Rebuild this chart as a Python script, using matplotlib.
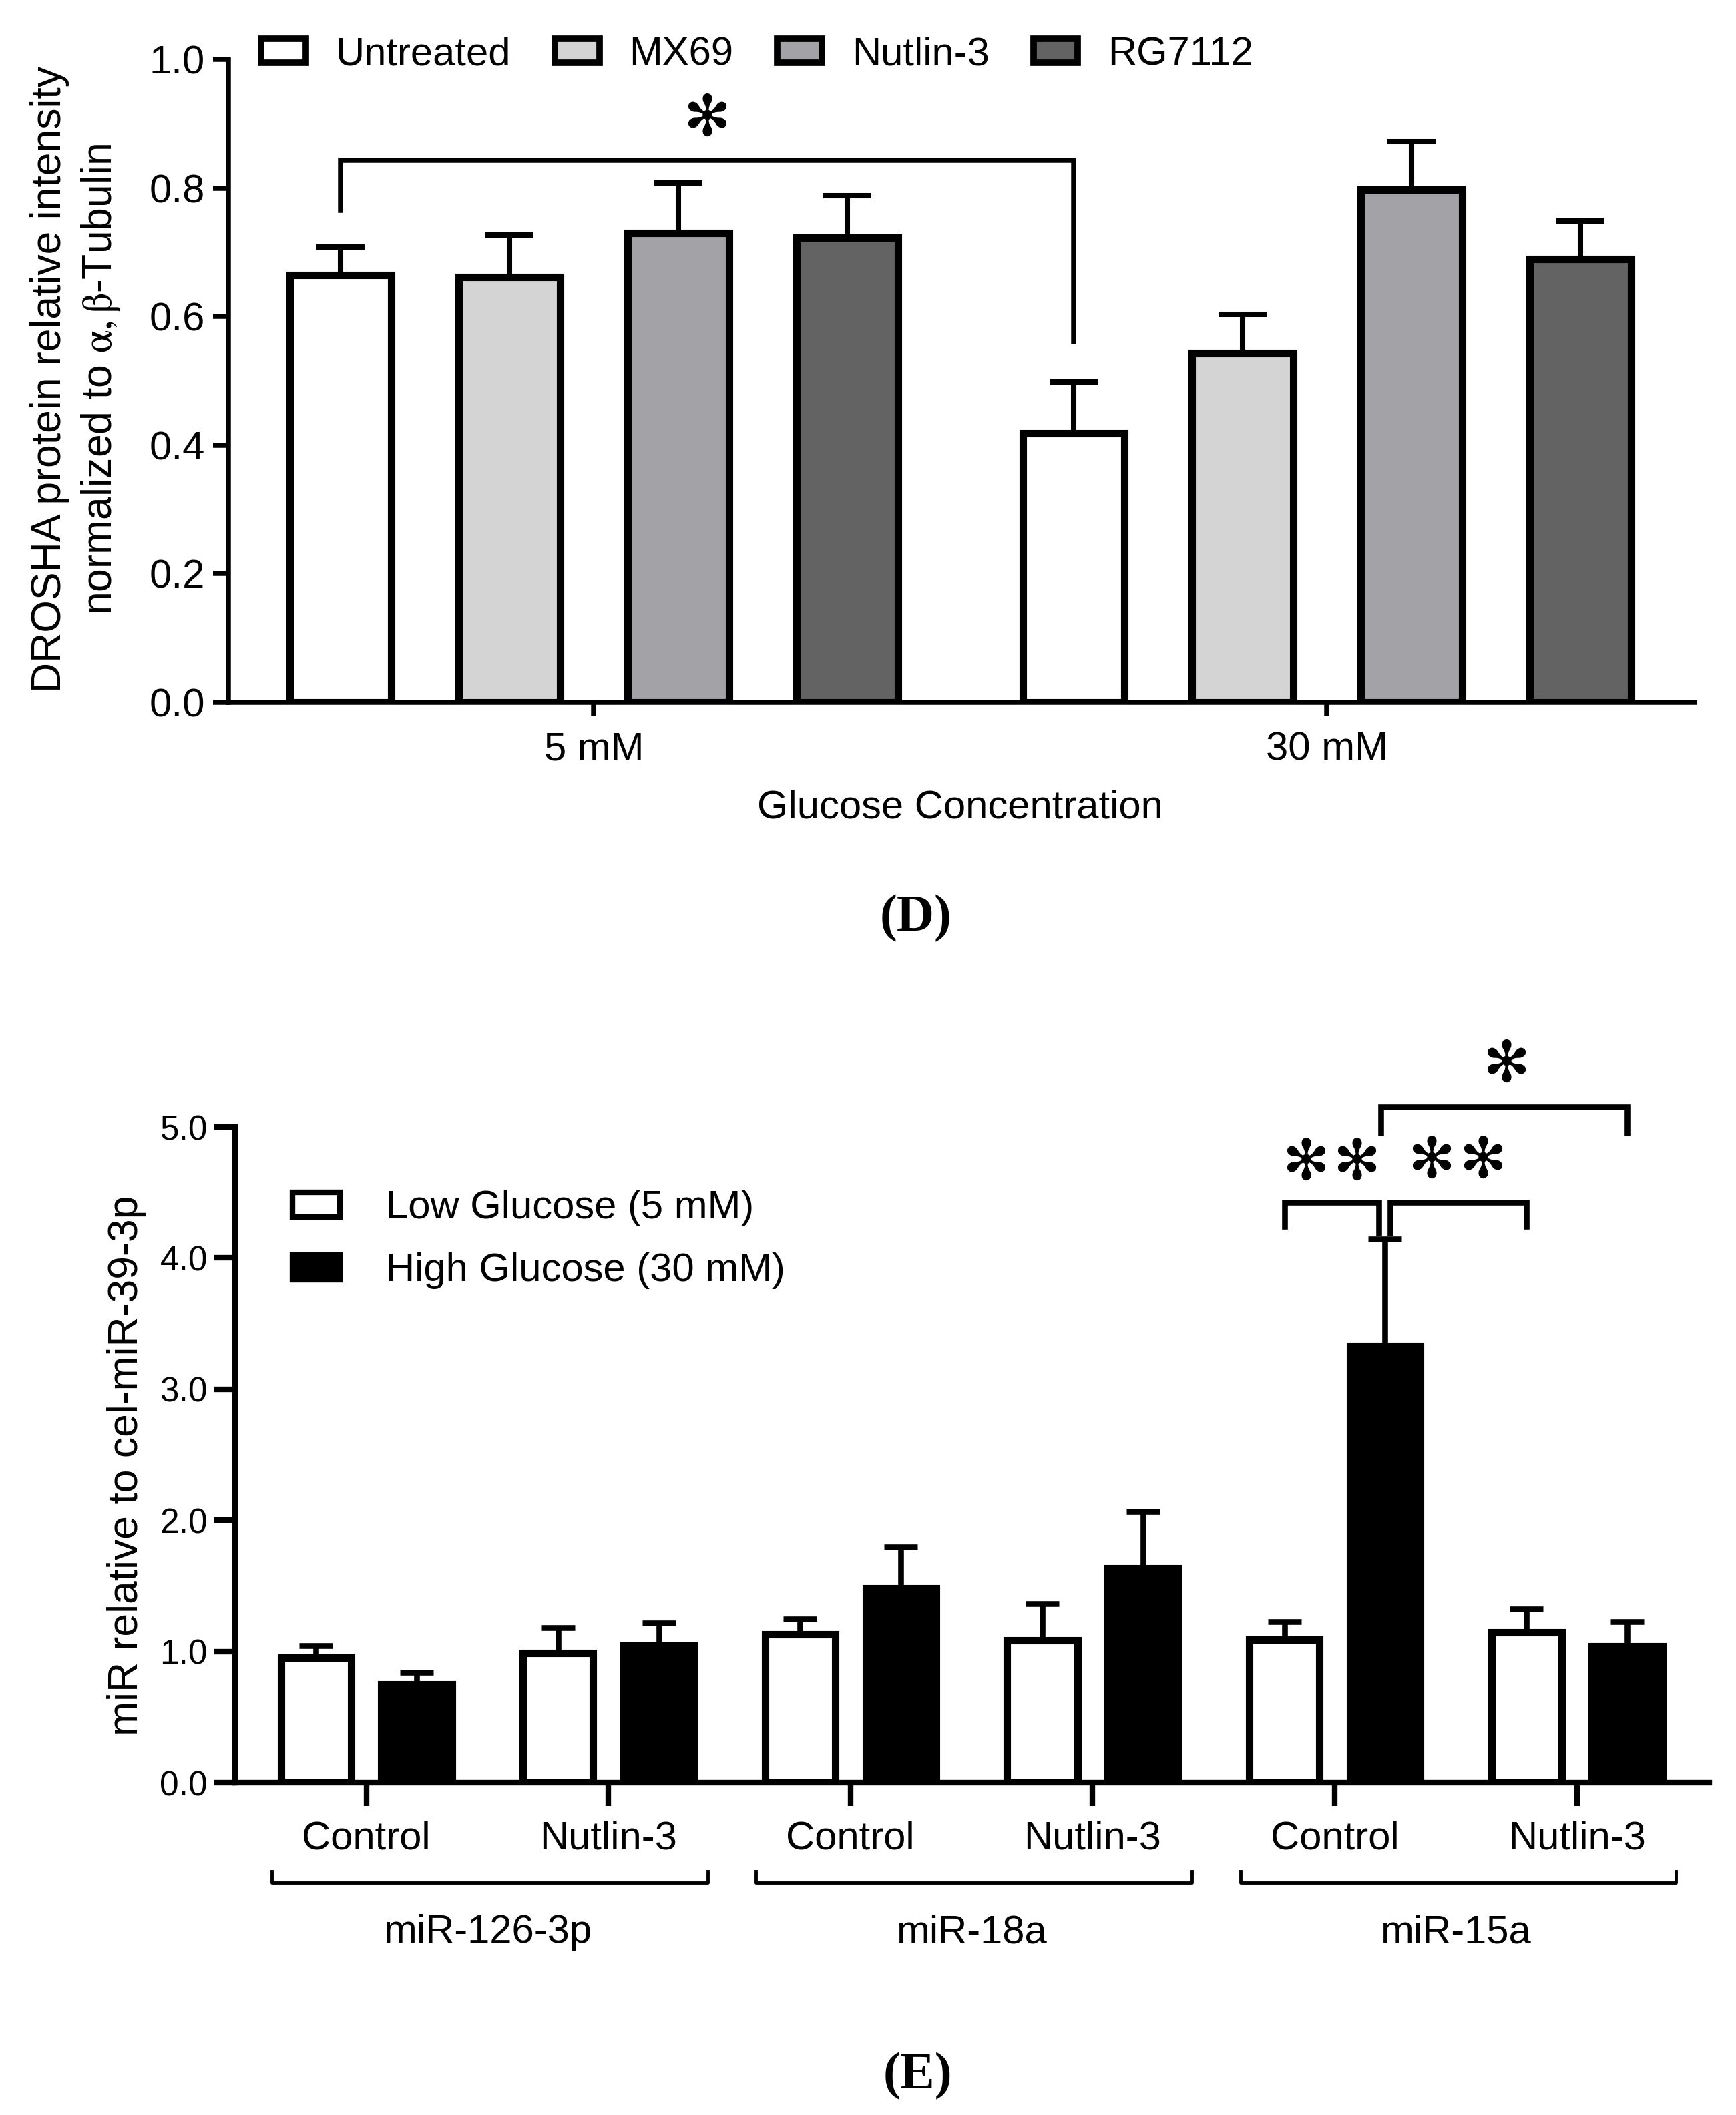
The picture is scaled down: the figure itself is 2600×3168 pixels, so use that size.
import numpy as np
import matplotlib
matplotlib.use('Agg')
import matplotlib.pyplot as plt
from matplotlib.patches import Patch

plt.rcParams['font.family'] = ['Liberation Sans', 'DejaVu Sans']
plt.rcParams['mathtext.fontset'] = 'stix'

# ---- panel D: DROSHA protein
conc = ['5 mM', '30 mM']
treatments = ['Untreated', 'MX69', 'Nutlin-3', 'RG7112']
treat_colors = ['#ffffff', '#d4d4d4', '#a3a2a7', '#636363']
drosha_mean = [[0.665, 0.661, 0.730, 0.723],
               [0.419, 0.543, 0.797, 0.690]]
drosha_err = [[0.043, 0.066, 0.078, 0.065],
              [0.079, 0.060, 0.075, 0.059]]

# ---- panel E: miRNA levels
mirs = ['miR-126-3p', 'miR-18a', 'miR-15a']
conds = ['Control', 'Nutlin-3']
glucose = ['Low Glucose (5 mM)', 'High Glucose (30 mM)']
low_mean = [0.952, 0.988, 1.130, 1.084, 1.090, 1.146]
low_err = [0.092, 0.193, 0.117, 0.280, 0.137, 0.178]
high_mean = [0.748, 1.044, 1.480, 1.634, 3.330, 1.040]
high_err = [0.092, 0.173, 0.317, 0.433, 0.815, 0.187]

W, H = 2600, 3168
fig = plt.figure(figsize=(26, 31.68), dpi=100)

STAR = '\u273b'  # teardrop-spoked asterisk


def stars(ax, x, y, n=1, step=0.0):
    for k in range(n):
        ax.text(x + (k - (n - 1) / 2) * step, y, STAR, family='DejaVu Sans', fontsize=61,
                ha='center', va='center', clip_on=False)


# ================= panel D
ax = fig.add_axes([342 / W, 1 - 1052 / H, 2196 / W, 963 / H])
gap = 4.34
bw = 0.60
for g in range(len(conc)):
    xs = g * gap + np.arange(len(treatments))
    ax.bar(xs, drosha_mean[g], bw, color=treat_colors, edgecolor='k', linewidth=8, zorder=2)
    ax.errorbar(xs, drosha_mean[g], yerr=[np.zeros(4), drosha_err[g]], fmt='none',
                ecolor='k', elinewidth=5.8, capsize=26, capthick=5.8, zorder=3)

ax.set_xlim(-0.664, 8.016)
ax.set_ylim(0, 1.0)
ax.set_xticks([1.5, gap + 1.5], conc)
yt = np.arange(0, 1.01, 0.2)
ax.set_yticks(yt, [f'{v:.1f}' for v in yt])
for s in ['top', 'right']:
    ax.spines[s].set_visible(False)
for s in ['left', 'bottom']:
    ax.spines[s].set_linewidth(5.4)
ax.tick_params(axis='y', length=16.5, width=5.4, pad=8.6, labelsize=43)
ax.tick_params(axis='x', length=15, width=5.4, pad=16, labelsize=43)

# significance bracket Untreated 5 mM vs 30 mM
x0, x1 = 0, gap
ax.plot([x0, x0, x1, x1], [0.765, 0.843, 0.843, 0.561], color='k', lw=5.4,
        solid_joinstyle='miter', clip_on=False, zorder=4)
stars(ax, (x0 + x1) / 2, 0.906)

handles = [Patch(facecolor=c, edgecolor='k', linewidth=7) for c in treat_colors]
ax.legend(handles, treatments, ncol=4, loc='center left', bbox_to_anchor=(0.0223, 1.0075),
          frameon=False, fontsize=43, handlelength=1.12, handleheight=0.54,
          handletextpad=0.75, columnspacing=1.1, borderpad=0, borderaxespad=0)

fig.text(114 / W, 1 - 568 / H,
         'DROSHA protein relative intensity\nnormalized to $\\mathrm{\\alpha,\\beta}$-Tubulin',
         rotation=90, ha='center', va='center', multialignment='center',
         fontsize=45, linespacing=1.3)
fig.text(1438 / W, 1 - 1226 / H, 'Glucose Concentration', ha='center', va='baseline', fontsize=43)
fig.text(1372 / W, 1 - 1394 / H, '(D)', ha='center', va='baseline', fontsize=56,
         family='Liberation Serif', weight='bold')

# ================= panel E
ax2 = fig.add_axes([352 / W, 1 - 2670 / H, 2208 / W, 982 / H])
cat = np.arange(len(mirs) * len(conds))
off = 0.208
bw2 = 0.29
ax2.bar(cat - off, low_mean, bw2, color='white', edgecolor='k', linewidth=8, zorder=2)
ax2.bar(cat + off, high_mean, bw2, color='black', edgecolor='k', linewidth=8, zorder=2)
for xs, m, e in [(cat - off, low_mean, low_err), (cat + off, high_mean, high_err)]:
    ax2.errorbar(xs, m, yerr=[np.zeros(len(m)), e], fmt='none', ecolor='k',
                 elinewidth=6.2, capsize=18, capthick=6.2, zorder=3)

ax2.set_xlim(-0.542, 5.547)
ax2.set_ylim(0, 5.0)
ax2.set_xticks(cat, conds * len(mirs))
yt2 = np.arange(0, 5.01, 1.0)
ax2.set_yticks(yt2, [f'{v:.1f}' for v in yt2])
for s in ['top', 'right']:
    ax2.spines[s].set_visible(False)
for s in ['left', 'bottom']:
    ax2.spines[s].set_linewidth(6)
ax2.tick_params(axis='y', length=23, width=6, pad=6.5, labelsize=37)
ax2.tick_params(axis='x', length=25, width=6, pad=16, labelsize=43)

# group brackets under the axis
for g, name in enumerate(mirs):
    a, b = 2 * g - 0.39, 2 * g + 1.41
    ax2.plot([a, a, b, b], [-0.677, -0.764, -0.764, -0.677], color='k', lw=3.5, clip_on=False)
    ax2.text(2 * g + 0.5, -1.222, name, ha='center', va='baseline', fontsize=43)

# significance in miR-15a
lc, hc = 4 - off, 4 + off
ln, hn = 5 - off, 5 + off
ax2.plot([lc, lc, hc - 0.025, hc - 0.025], [4.24, 4.425, 4.425, 4.19], color='k', lw=6.2,
         solid_joinstyle='miter', clip_on=False, zorder=4)
ax2.plot([hc + 0.02, hc + 0.02, ln, ln], [4.19, 4.425, 4.425, 4.24], color='k', lw=6.2,
         solid_joinstyle='miter', clip_on=False, zorder=4)
ax2.plot([hc - 0.018, hc - 0.018, hn, hn], [4.954, 5.153, 5.153, 4.954], color='k', lw=6.2,
         solid_joinstyle='miter', clip_on=False, zorder=4)
stars(ax2, 3.985, 4.72, 2, step=0.212)
stars(ax2, 4.505, 4.735, 2, step=0.21)
stars(ax2, (hc + hn) / 2, 5.468, 1)

h2 = [Patch(facecolor='white', edgecolor='k', linewidth=6),
      Patch(facecolor='black', edgecolor='k', linewidth=6)]
ax2.legend(h2, glucose, loc='center left', bbox_to_anchor=(0.039, 0.828), frameon=False,
           fontsize=43, handlelength=1.19, handleheight=0.58, handletextpad=1.15,
           labelspacing=0.65, borderpad=0, borderaxespad=0)

fig.text(190 / W, 1 - 2195 / H, 'miR relative to cel-miR-39-3p', rotation=90,
         ha='center', va='center', fontsize=45)
fig.text(1374 / W, 1 - 3128 / H, '(E)', ha='center', va='baseline', fontsize=56,
         family='Liberation Serif', weight='bold')

fig.savefig('out.png', dpi=100, facecolor='white')
